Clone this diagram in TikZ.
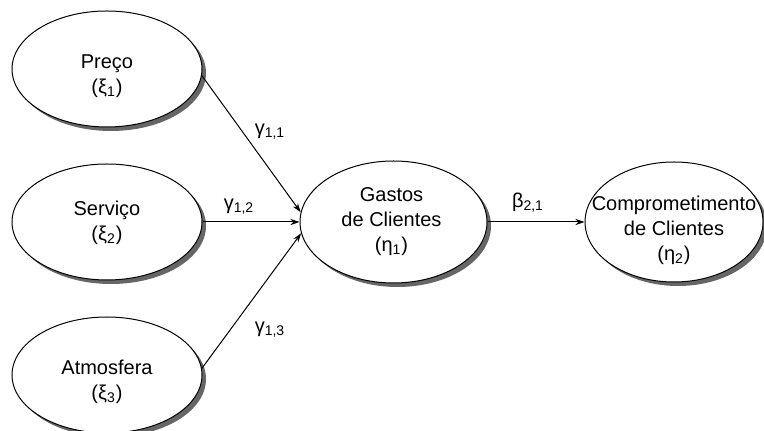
\documentclass[tikz,border=0pt]{standalone}
\usepackage{fontspec}
\setmainfont{Liberation Sans}
\usetikzlibrary{shapes.geometric, arrows.meta, positioning, shadows}
\tikzset{
  latent/.style={ellipse, draw, fill=white, line width=0.5pt, minimum width=95pt, minimum height=58pt, inner sep=0pt, drop shadow={shadow xshift=2pt, shadow yshift=-2pt, fill=black!60, opacity=1}},
  bigLatent/.style={latent, minimum width=93.5pt, minimum height=61pt},
  latentText/.style={inner sep=0pt, align=center, font=\fontsize{10}{12.5}\selectfont},
  arrow/.style={-{Stealth[length=4.5pt, width=3pt]}, line width=0.5pt},
  coef/.style={inner sep=0pt, font=\fontsize{10}{12}\selectfont},
}

\begin{document}
\begin{tikzpicture}[x=1pt, y=1pt, node distance=18pt and 48.5pt]
  \useasboundingbox (0,0) rectangle (382,-215.5);
  % Nodes
  \node[latent] (preco) at (53.5,-34.5) {};
  \node[latent, below=of preco] (servico) {};
  \node[latent, below=of servico] (atmos) {};
  \node[bigLatent, right=of servico] (gastos) {};
  \node[latent, minimum width=89pt, minimum height=60pt, right=of gastos] (comp) {};

  % Texts
  \node[latentText] (precoText) at ([yshift=-3.5pt]preco) {Preço\\(ξ\textsubscript{1})};
  \node[latentText] (servicoText) at ([yshift=-0.5pt]servico) {Serviço\\(ξ\textsubscript{2})};
  \node[latentText] (atmosText) at ([yshift=-3.5pt]atmos) {Atmosfera\\(ξ\textsubscript{3})};
  \node[latentText] (gastosText) at ([xshift=-1pt]gastos) {Gastos\\de Clientes\\(η\textsubscript{1})};
  \node[latentText] (compText) at ([yshift=-4pt]comp) {\makebox[0pt]{Comprometimento}\\de Clientes\\(η\textsubscript{2})};

  % Arrows
  \draw[arrow] (preco.-4) -- (gastos.174);
  \draw[arrow] (servico) -- (gastos);
  \draw[arrow] (atmos.4) -- (gastos.187);
  \draw[arrow] (gastos) -- (comp);

  % Coefficients
  \node[coef] (g11) at (135,-66) {γ\textsubscript{1,1}};
  \node[coef] (g12) at (119.5,-103.5) {γ\textsubscript{1,2}};
  \node[coef] (g13) at (135,-165) {γ\textsubscript{1,3}};
  \node[coef] (b21) at (264,-101.5) {β\textsubscript{2,1}};
\end{tikzpicture}
\end{document}
